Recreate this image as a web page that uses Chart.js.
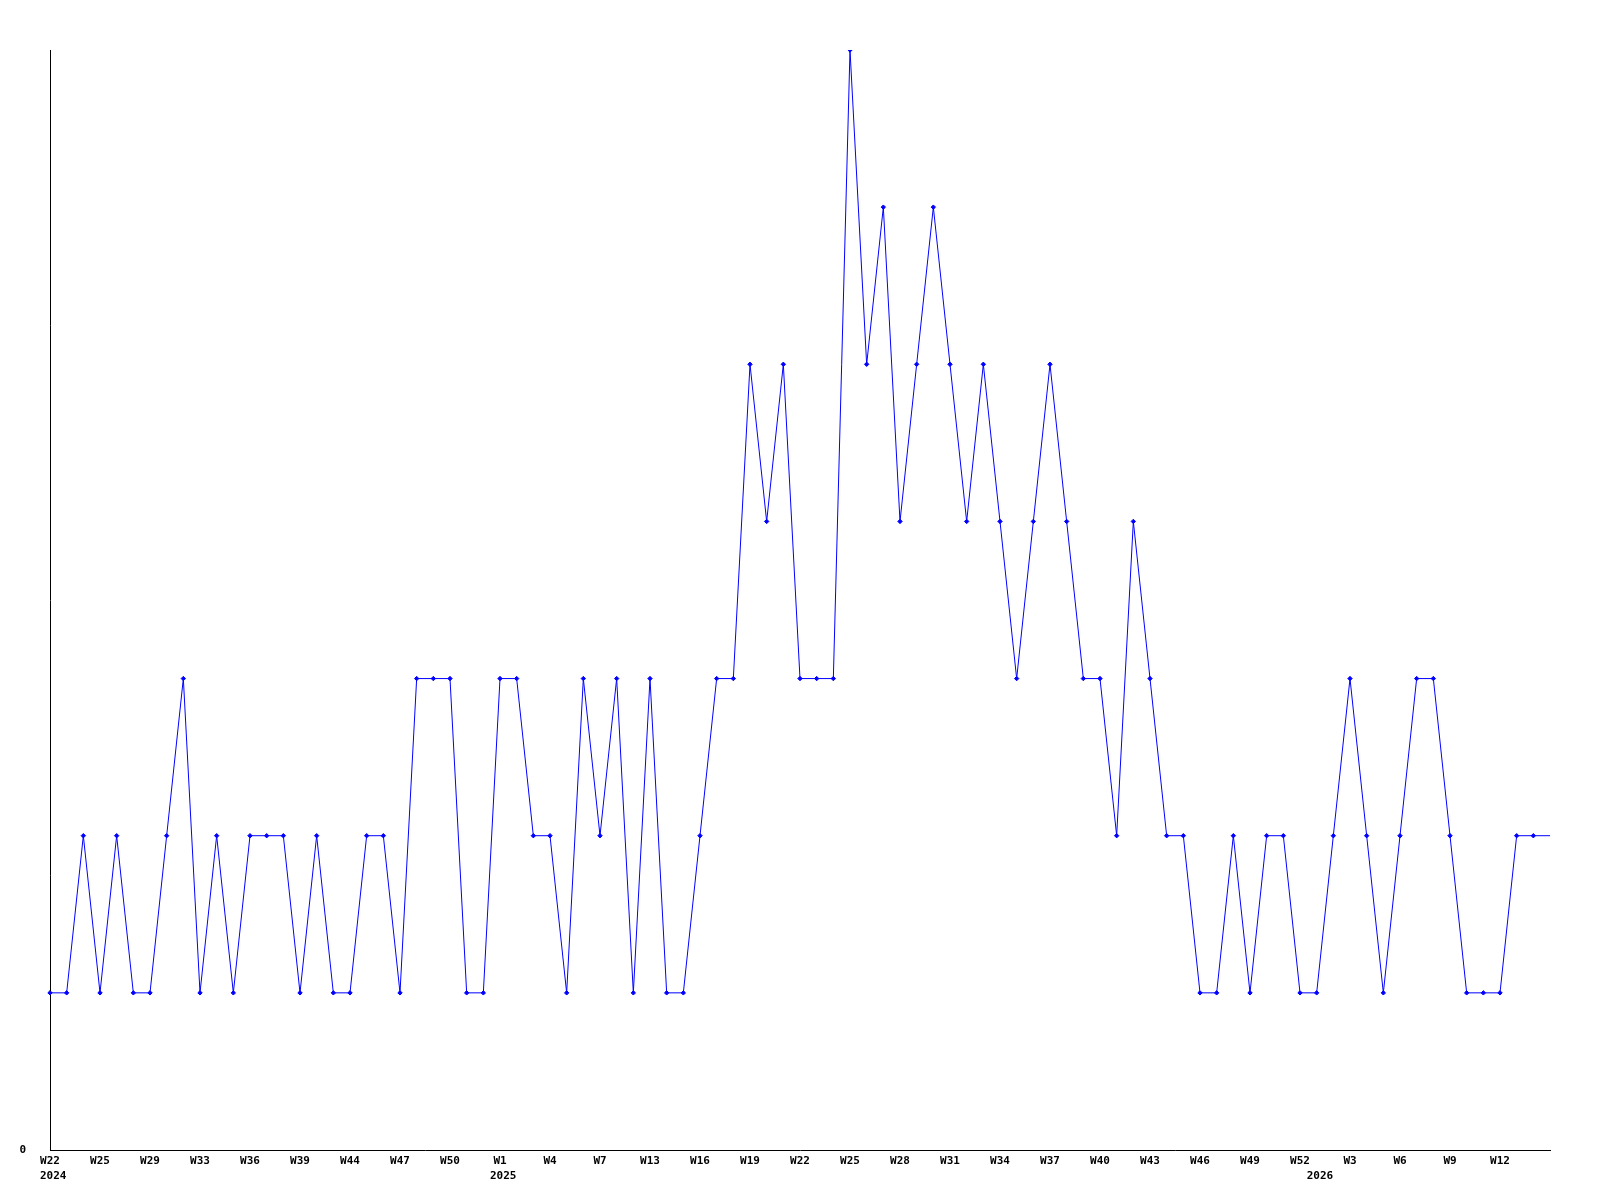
<!DOCTYPE html>
<html>
<head>
<meta charset="utf-8">
<style>
  html, body { margin: 0; padding: 0; background: #ffffff; }
  #wrap { width: 1600px; height: 1200px; }
</style>
<script src="https://cdn.jsdelivr.net/npm/chart.js@4/dist/chart.umd.min.js"></script>
</head>
<body>
<div id="wrap"><canvas id="c" width="1600" height="1200"></canvas></div>
<script>
const weeks = [
  'W22','W23','W24','W25','W27','W28','W29','W31','W32','W33','W34','W35','W36','W37','W38','W39',
  'W41','W42','W44','W45','W46','W47','W48','W49','W50','W51','W52',
  'W1','W2','W3','W4','W5','W6','W7','W9','W11','W13','W14','W15','W16','W17','W18','W19','W20',
  'W21','W22','W23','W24','W25','W26','W27','W28','W29','W30','W31','W32','W33','W34','W35','W36',
  'W37','W38','W39','W40','W41','W42','W43','W44','W45','W46','W47','W48','W49','W50','W51','W52',
  'W1','W2','W3','W4','W5','W6','W7','W8','W9','W10','W11','W12','W13','W14','W15'
];
const years = [
  '2024','2024','2024','2024','2024','2024','2024','2024','2024','2024','2024','2024','2024','2024','2024','2024',
  '2024','2024','2024','2024','2024','2024','2024','2024','2024','2024','2024',
  '2025','2025','2025','2025','2025','2025','2025','2025','2025','2025','2025','2025','2025','2025','2025','2025','2025',
  '2025','2025','2025','2025','2025','2025','2025','2025','2025','2025','2025','2025','2025','2025','2025','2025',
  '2025','2025','2025','2025','2025','2025','2025','2025','2025','2025','2025','2025','2025','2025','2025','2025',
  '2026','2026','2026','2026','2026','2026','2026','2026','2026','2026','2026','2026','2026','2026','2026'
];
const counts = [
  1,1,2,1,2,1,1,2,3,1,2,1,2,2,2,1,
  2,1,1,2,2,1,3,3,3,1,1,
  3,3,2,2,1,3,2,3,1,3,1,1,2,3,3,5,4,
  5,3,3,3,7,5,6,4,5,6,5,4,5,4,3,4,
  5,4,3,3,2,4,3,2,2,1,1,2,1,2,2,1,
  1,2,3,2,1,2,3,3,2,1,1,1,2,2,2
];
const yTicks = [0];
const labelEvery = 3;

const FONT = { family: "'DejaVu Sans Mono', monospace", size: 11, weight: 'bold', lineHeight: 1.2 };
const lastIdx = counts.length - 1;

new Chart(document.getElementById('c'), {
  type: 'line',
  data: {
    labels: weeks,
    datasets: [{
      data: counts,
      borderColor: '#0000ff',
      backgroundColor: '#0000ff',
      borderWidth: 1,
      tension: 0,
      fill: false,
      pointStyle: 'rectRot',
      pointRadius: (ctx) => ctx.dataIndex === lastIdx ? 0 : 2.2,
      pointBorderWidth: 1,
      pointBorderColor: '#0000ff',
      pointBackgroundColor: '#0000ff'
    }]
  },
  options: {
    responsive: false,
    devicePixelRatio: 1,
    animation: false,
    layout: { padding: { top: 50, right: 50, left: 0, bottom: 0 } },
    plugins: { legend: { display: false }, tooltip: { enabled: false } },
    scales: {
      y: {
        type: 'linear',
        min: 0,
        max: 7,
        grid: { display: false, drawTicks: false },
        border: { display: true, color: '#000000', width: 1 },
        ticks: {
          stepSize: 7,
          padding: 24,
          color: '#000000',
          font: FONT,
          callback: (v) => yTicks.includes(v) ? String(v) : ''
        },
        afterFit: (s) => { s.width = 50; }
      },
      x: {
        type: 'category',
        position: 'bottom',
        weight: 0,
        offset: false,
        grid: { display: false, drawTicks: false },
        border: { display: true, color: '#000000', width: 1 },
        ticks: {
          autoSkip: false,
          maxRotation: 0,
          minRotation: 0,
          padding: 5,
          color: '#000000',
          font: FONT,
          callback: function (v, i) { return (i % labelEvery === 0 && i < lastIdx) ? weeks[i] : ''; }
        },
        afterFit: (s) => { s.height = 20; }
      },
      x2: {
        type: 'category',
        position: 'bottom',
        weight: 1,
        offset: false,
        labels: weeks,
        grid: { display: false, drawTicks: false },
        border: { display: false },
        ticks: {
          autoSkip: false,
          maxRotation: 0,
          minRotation: 0,
          align: 'start',
          labelOffset: -10,
          padding: 0,
          color: '#000000',
          font: FONT,
          callback: function (v, i) { return (i === 0 || years[i] !== years[i - 1]) ? years[i] : ''; }
        },
        afterFit: (s) => { s.height = 30; }
      }
    }
  }
});
</script>
</body>
</html>
